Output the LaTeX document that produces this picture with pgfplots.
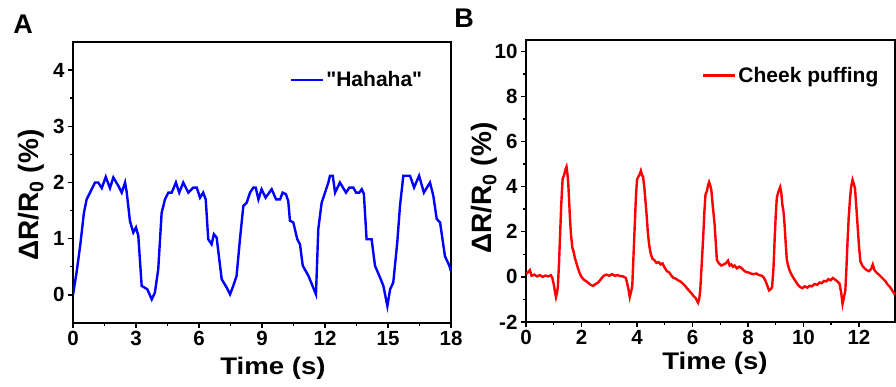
\documentclass[border=0pt]{standalone}
\usepackage{pgfplots}
\pgfplotsset{compat=1.18}
\usepackage{fontspec}
\setmainfont{Liberation Sans}[Ligatures=TeXOff]
\usepackage{graphicx}

\pgfplotsset{
 myax/.style={
  scale only axis, anchor=south west,
  axis line style={line width=1.6pt},
  tick pos=left, tick align=outside,
  major tick length=5pt, minor tick length=3pt,
  every tick/.style={line width=1.4pt, black},
  /pgf/number format/assume math mode=true,
  ticklabel style={font=\fontsize{20.5}{20.5}\selectfont\bfseries},
  legend style={draw=none, fill=none, font=\fontsize{21}{21}\selectfont\bfseries, inner sep=0pt, outer sep=0pt},
  legend image code/.code={\draw[#1, line width=2.4pt] (0pt,0pt) -- (32pt,0pt);},
  legend cell align=left,
  ylabel style={anchor=center, font=\fontsize{28}{28}\selectfont\bfseries},
  xlabel style={anchor=center, font=\fontsize{24}{24}\selectfont\bfseries},
 }
}

\begin{document}
\begin{tikzpicture}
\useasboundingbox (0pt,0pt) rectangle (896pt,387pt);

% Panel A
\begin{axis}[myax,
  at={(73pt,64pt)}, width=378pt, height=281pt,
  xmin=0, xmax=18, ymin=-0.5, ymax=4.5,
  xtick={0,3,...,18}, ytick={0,1,2,3,4},
  minor x tick num=1, minor y tick num=1,
  xlabel={\scalebox{1.15}[1]{Time (s)}},
  ylabel={ΔR/R\textsubscript{0} (\%)},
  xlabel style={at={(rel axis cs:0.529,-0.16)}},
  ylabel style={at={(rel axis cs:-0.111,0.455)}},
  legend style={at={(rel axis cs:0.574,0.865)}, anchor=west},
]
\addplot[blue, line width=2.4pt] coordinates {
(0,0) (0.17,0.4) (0.35,0.9) (0.52,1.46) (0.65,1.7) (0.81,1.82) (1.05,2.0) (1.2,2.0)
(1.37,1.9) (1.56,2.1) (1.76,1.9) (1.92,2.09) (2.16,1.94) (2.32,1.82) (2.48,2.0) (2.56,1.82)
(2.71,1.32) (2.87,1.11) (3.0,1.2) (3.11,1.05) (3.27,0.16) (3.54,0.1) (3.75,-0.08) (3.9,0.04)
(4.06,0.46) (4.22,1.46) (4.38,1.7) (4.54,1.82) (4.7,1.82) (4.9,2.0) (5.06,1.82) (5.25,2.0)
(5.49,1.82) (5.73,1.91) (5.89,1.91) (6.05,1.73) (6.2,1.82) (6.32,1.7) (6.44,0.99) (6.6,0.9)
(6.71,1.08) (6.84,1.02) (7.08,0.28) (7.32,0.13) (7.48,0.01) (7.63,0.16) (7.79,0.34) (7.95,0.99)
(8.11,1.58) (8.27,1.64) (8.43,1.82) (8.59,1.91) (8.7,1.91) (8.83,1.7) (8.98,1.88) (9.17,1.73)
(9.46,1.88) (9.67,1.7) (9.86,1.7) (9.98,1.82) (10.14,1.79) (10.25,1.67) (10.33,1.32) (10.49,1.29)
(10.68,0.99) (10.81,0.9) (10.94,0.52) (11.21,0.34) (11.57,0.01) (11.68,1.17) (11.84,1.64) (12.0,1.82)
(12.16,2.0) (12.24,2.12) (12.37,2.12) (12.48,1.82) (12.71,2.0) (13.0,1.82) (13.16,1.91) (13.35,1.91)
(13.48,1.82) (13.63,1.82) (13.75,1.88) (13.85,1.8) (13.98,0.99) (14.22,0.99) (14.38,0.52) (14.62,0.31)
(14.78,0.16) (14.97,-0.2) (15.1,0.1) (15.25,0.22) (15.44,0.93) (15.57,1.58) (15.73,2.12) (16.05,2.12)
(16.24,1.91) (16.48,2.12) (16.71,1.82) (17.0,2.0) (17.16,1.76) (17.32,1.35) (17.48,1.29) (17.71,0.69)
(17.92,0.52) (18.0,0.42)
};
\addlegendentry{\char34 Hahaha\char34}
\end{axis}

% Panel B
\begin{axis}[myax,
  at={(526pt,65pt)}, width=369pt, height=282pt,
  xmin=0, xmax=13.3, ymin=-2, ymax=10.5,
  xtick={0,2,...,12}, ytick={-2,0,...,10},
  minor x tick num=1, minor y tick num=1,
  xlabel={\scalebox{1.15}[1]{Time (s)}},
  ylabel={ΔR/R\textsubscript{0} (\%)},
  xlabel style={at={(rel axis cs:0.512,-0.145)}},
  ylabel style={at={(rel axis cs:-0.114,0.475)}},
  legend style={at={(rel axis cs:0.477,0.874)}, anchor=west},
]
\addplot[red, line width=2.4pt] coordinates {
(0,0.12) (0.07,0.2) (0.14,0.3) (0.2,0.05) (0.3,0.1) (0.4,0.02) (0.5,0.08) (0.6,0.0) (0.7,0.06)
(0.8,0.02) (0.9,0.07) (0.95,-0.05) (1.0,-0.33) (1.05,-0.7) (1.08,-0.9) (1.12,-0.7) (1.15,-0.4)
(1.19,0.6) (1.22,1.6) (1.27,3.2) (1.32,4.35) (1.37,4.5) (1.42,4.75) (1.46,4.88) (1.49,4.6)
(1.52,4.2) (1.55,3.5) (1.58,2.7) (1.62,1.9) (1.67,1.3) (1.72,1.1) (1.76,0.85) (1.82,0.6)
(1.88,0.35) (1.94,0.15) (2.0,0.0) (2.08,-0.12) (2.18,-0.2) (2.26,-0.28) (2.34,-0.36) (2.42,-0.4)
(2.5,-0.32) (2.6,-0.25) (2.7,-0.1) (2.8,0.05) (2.9,0.1) (3.0,0.05) (3.1,0.12) (3.2,0.05)
(3.3,0.08) (3.4,0.03) (3.5,0.02) (3.6,-0.05) (3.65,-0.3) (3.7,-0.6) (3.74,-0.9) (3.78,-0.7)
(3.83,-0.4) (3.87,0.8) (3.92,2.3) (3.96,3.5) (4.0,4.3) (4.05,4.45) (4.1,4.55) (4.14,4.7)
(4.18,4.5) (4.22,4.45) (4.27,3.9) (4.31,3.3) (4.35,2.7) (4.39,2.0) (4.44,1.4) (4.5,1.0)
(4.56,0.8) (4.62,0.75) (4.7,0.62) (4.78,0.65) (4.86,0.55) (4.92,0.6) (5.0,0.4) (5.08,0.25)
(5.16,0.2) (5.24,0.05) (5.32,-0.05) (5.4,-0.08) (5.48,-0.15) (5.56,-0.2) (5.64,-0.28) (5.72,-0.38)
(5.8,-0.5) (5.88,-0.62) (5.96,-0.72) (6.04,-0.85) (6.12,-0.95) (6.2,-1.15) (6.24,-1.0) (6.28,-0.6)
(6.33,0.5) (6.38,1.6) (6.43,2.9) (6.47,3.65) (6.52,3.8) (6.56,4.05) (6.6,4.2) (6.64,4.05)
(6.68,3.85) (6.72,3.3) (6.76,2.8) (6.8,2.3) (6.84,1.5) (6.88,0.75) (6.95,0.6) (7.04,0.5)
(7.12,0.55) (7.2,0.6) (7.28,0.72) (7.34,0.5) (7.4,0.55) (7.46,0.45) (7.52,0.5) (7.6,0.38)
(7.68,0.45) (7.76,0.4) (7.84,0.3) (7.92,0.22) (8.0,0.2) (8.1,0.15) (8.2,0.12) (8.3,0.15)
(8.4,0.08) (8.5,0.05) (8.58,-0.05) (8.64,-0.2) (8.7,-0.4) (8.76,-0.6) (8.82,-0.55) (8.87,-0.45)
(8.92,0.4) (8.96,1.6) (9.0,2.7) (9.04,3.5) (9.08,3.7) (9.12,3.85) (9.16,3.98) (9.2,3.75)
(9.24,3.2) (9.28,2.9) (9.32,2.3) (9.36,1.5) (9.4,0.75) (9.48,0.35) (9.56,0.12) (9.64,-0.05)
(9.72,-0.2) (9.8,-0.35) (9.88,-0.45) (9.96,-0.5) (10.05,-0.42) (10.14,-0.48) (10.22,-0.4) (10.3,-0.42)
(10.4,-0.32) (10.5,-0.35) (10.58,-0.25) (10.66,-0.28) (10.74,-0.18) (10.82,-0.2) (10.9,-0.1) (10.98,-0.15)
(11.06,-0.05) (11.14,-0.12) (11.22,-0.2) (11.3,-0.3) (11.36,-0.7) (11.41,-1.2) (11.46,-0.9) (11.51,-0.6)
(11.55,0.4) (11.59,1.6) (11.63,2.6) (11.68,3.5) (11.72,4.0) (11.77,4.3) (11.82,4.1) (11.86,3.9)
(11.9,3.2) (11.95,2.3) (12.0,1.4) (12.05,0.7) (12.12,0.5) (12.2,0.38) (12.28,0.3) (12.36,0.25)
(12.44,0.35) (12.5,0.55) (12.56,0.3) (12.64,0.18) (12.72,0.1) (12.8,0.0) (12.88,-0.1) (12.96,-0.2)
(13.04,-0.35) (13.12,-0.45) (13.2,-0.6) (13.3,-0.8)
};
\addlegendentry{Cheek puffing}
\end{axis}

\node[font=\fontsize{27}{27}\selectfont\bfseries] at (23pt,363pt) {A};
\node[font=\fontsize{27}{27}\selectfont\bfseries] at (464pt,369pt) {B};
\end{tikzpicture}
\end{document}
